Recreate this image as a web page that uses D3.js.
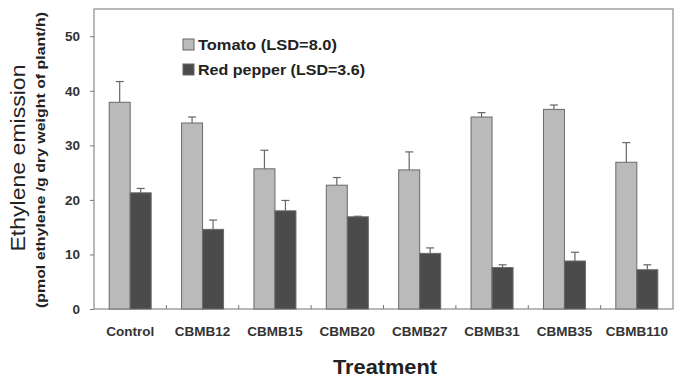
<!DOCTYPE html>
<html>
<head>
<meta charset="utf-8">
<script src="https://cdn.jsdelivr.net/npm/d3@7"></script>
<style>
  html, body { margin: 0; padding: 0; background: #fff; }
  svg { display: block; font-family: "Liberation Sans", Arial, sans-serif; }
</style>
</head>
<body>
<div id="chart"></div>
<script>
// data
const treatments = ["Control", "CBMB12", "CBMB15", "CBMB20", "CBMB27", "CBMB31", "CBMB35", "CBMB110"];
const tomato = [37.9, 34.1, 25.7, 22.7, 25.5, 35.2, 36.6, 26.9];
const tomatoErr = [3.8, 1.1, 3.4, 1.4, 3.3, 0.8, 0.8, 3.6];
const pepper = [21.3, 14.6, 18.0, 16.9, 10.2, 7.6, 8.8, 7.2];
const pepperErr = [0.8, 1.7, 1.9, 0.1, 1.0, 0.5, 1.6, 0.9];
const seriesNames = ["Tomato (LSD=8.0)", "Red pepper (LSD=3.6)"];
const yTicks = [0, 10, 20, 30, 40, 50];

const width = 684, height = 384;
const margin = { top: 9, right: 11, bottom: 75, left: 94 };
const colors = ["#bababa", "#4b4b4b"];

const svg = d3.select("#chart").append("svg")
    .attr("width", width)
    .attr("height", height);

const x0 = d3.scaleBand()
    .domain(treatments)
    .range([margin.left, width - margin.right]);

const x1 = d3.scaleBand()
    .domain([0, 1])
    .range([0, 42])
    .padding(0);

const y = d3.scaleLinear()
    .domain([0, 55])
    .range([height - margin.bottom, margin.top]);

// plot frame
svg.append("rect")
    .attr("x", margin.left)
    .attr("y", margin.top)
    .attr("width", width - margin.left - margin.right)
    .attr("height", height - margin.top - margin.bottom)
    .attr("fill", "none")
    .attr("stroke", "#8a8a8a")
    .attr("stroke-width", 1.2);

// y axis
const yAxis = svg.append("g")
    .attr("transform", `translate(${margin.left},0)`)
    .call(d3.axisLeft(y).tickValues(yTicks).tickSize(4).tickPadding(10));
yAxis.select(".domain").remove();
yAxis.selectAll("line").attr("stroke", "#777");
yAxis.selectAll("text")
    .style("font-size", "13.5px")
    .style("font-weight", "bold")
    .attr("fill", "#333");

// x axis (ticks between groups, pointing up)
const xBottom = height - margin.bottom;
svg.selectAll(".xtick")
    .data(treatments.slice(1))
    .enter()
    .append("line")
    .attr("x1", d => x0(d))
    .attr("x2", d => x0(d))
    .attr("y1", xBottom)
    .attr("y2", xBottom - 4)
    .attr("stroke", "#777");

svg.selectAll(".xlabel")
    .data(treatments)
    .enter()
    .append("text")
    .attr("x", d => x0(d) + x0.bandwidth() / 2)
    .attr("y", xBottom + 27)
    .attr("text-anchor", "middle")
    .style("font-size", "13.5px")
    .style("font-weight", "bold")
    .attr("fill", "#333")
    .text(d => d);

// bars
const series = [
    { vals: tomato, errs: tomatoErr },
    { vals: pepper, errs: pepperErr }
];
const groupOffset = (x0.bandwidth() - 42) / 2;

series.forEach((s, si) => {
    const g = svg.append("g");
    const rows = treatments.map((t, i) => ({ t, v: s.vals[i], e: s.errs[i] }));
    const bx = d => x0(d.t) + groupOffset + x1(si);

    // error bars (upper only)
    g.selectAll(".err")
        .data(rows)
        .enter()
        .append("line")
        .attr("x1", d => bx(d) + x1.bandwidth() / 2)
        .attr("x2", d => bx(d) + x1.bandwidth() / 2)
        .attr("y1", d => y(d.v))
        .attr("y2", d => y(d.v + d.e))
        .attr("stroke", "#666")
        .attr("stroke-width", 1.2);
    g.selectAll(".cap")
        .data(rows)
        .enter()
        .append("line")
        .attr("x1", d => bx(d) + x1.bandwidth() / 2 - 4)
        .attr("x2", d => bx(d) + x1.bandwidth() / 2 + 4)
        .attr("y1", d => y(d.v + d.e))
        .attr("y2", d => y(d.v + d.e))
        .attr("stroke", "#666")
        .attr("stroke-width", 1.2);

    g.selectAll(".bar")
        .data(rows)
        .enter()
        .append("rect")
        .attr("x", d => bx(d))
        .attr("y", d => y(d.v))
        .attr("width", x1.bandwidth())
        .attr("height", d => y(0) - y(d.v))
        .attr("fill", colors[si])
        .attr("stroke", "#6a6a6a")
        .attr("stroke-width", 1);
});

// legend
const legendLen = [139, 167];
const legend = svg.append("g").attr("transform", "translate(183,39)");
seriesNames.forEach((name, i) => {
    legend.append("rect")
        .attr("x", 0)
        .attr("y", i * 25)
        .attr("width", 11)
        .attr("height", 11)
        .attr("fill", colors[i])
        .attr("stroke", "#666");
    legend.append("text")
        .attr("x", 15)
        .attr("y", i * 25 + 11)
        .attr("textLength", legendLen[i])
        .attr("lengthAdjust", "spacingAndGlyphs")
        .style("font-size", "15px")
        .style("font-weight", "bold")
        .attr("fill", "#222")
        .text(name);
});

// axis titles
svg.append("text")
    .attr("transform", "translate(25,158) rotate(-90)")
    .attr("text-anchor", "middle")
    .attr("textLength", 187)
    .attr("lengthAdjust", "spacingAndGlyphs")
    .style("font-size", "20px")
    .attr("fill", "#222")
    .text("Ethylene emission");
svg.append("text")
    .attr("transform", "translate(45,160) rotate(-90)")
    .attr("text-anchor", "middle")
    .attr("textLength", 296)
    .attr("lengthAdjust", "spacingAndGlyphs")
    .style("font-size", "13px")
    .style("font-weight", "bold")
    .attr("fill", "#222")
    .text("(pmol ethylene /g dry weight of plant/h)");

svg.append("text")
    .attr("x", 385)
    .attr("y", 374)
    .attr("text-anchor", "middle")
    .attr("textLength", 104)
    .attr("lengthAdjust", "spacingAndGlyphs")
    .style("font-size", "20px")
    .style("font-weight", "bold")
    .attr("fill", "#222")
    .text("Treatment");
</script>
</body>
</html>
